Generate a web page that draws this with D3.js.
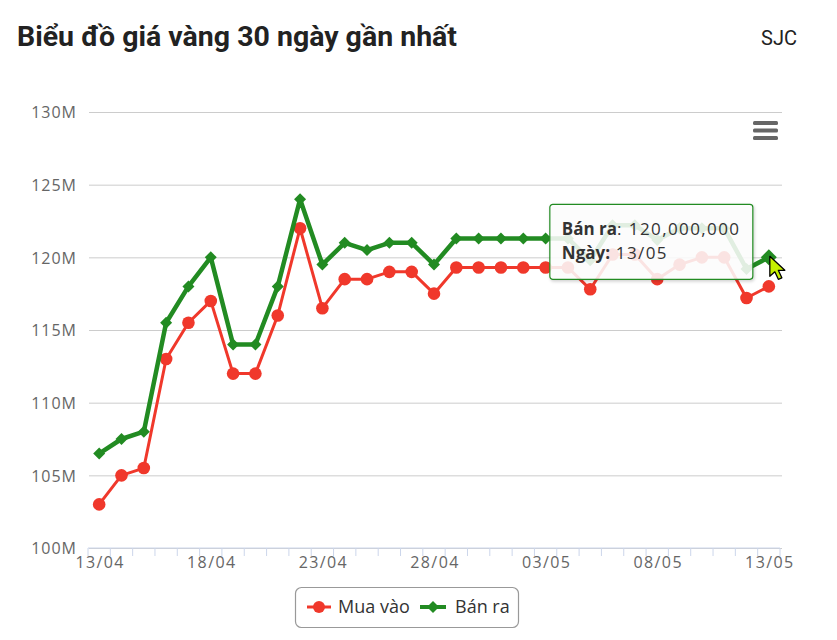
<!DOCTYPE html>
<html><head><meta charset="utf-8">
<script src="https://cdn.jsdelivr.net/npm/d3@7"></script>
<style>body{margin:0;background:#fff} svg{display:block;font-family:"Open Sans",sans-serif}</style>
</head><body>
<svg id="c" width="837" height="640"></svg>
<script>
const titleText = "Biểu đồ giá vàng 30 ngày gần nhất";
const brandText = "SJC";
const dates = ["13/04","14/04","15/04","16/04","17/04","18/04","19/04","20/04","21/04","22/04","23/04","24/04","25/04","26/04","27/04","28/04","29/04","30/04","01/05","02/05","03/05","04/05","05/05","06/05","07/05","08/05","09/05","10/05","11/05","12/05","13/05"];
const muaVao = [103,105,105.5,113,115.5,117,112,112,116,122,116.5,118.5,118.5,119,119,117.5,119.3,119.3,119.3,119.3,119.3,119.3,117.8,120.2,120.2,118.5,119.5,120,120,117.2,118];
const banRa  = [106.5,107.5,108,115.5,118,120,114,114,118,124,119.5,121,120.5,121,121,119.5,121.3,121.3,121.3,121.3,121.3,121.3,119.8,122.2,122.2,121.2,122,122,122,119.2,120];
const yTicks = [100,105,110,115,120,125,130];
const xTickLabels = ["13/04","18/04","23/04","28/04","03/05","08/05","13/05"];
const seriesNames = ["Mua vào","Bán ra"];
const hoverIndex = 30;

const colors = {mua:"#f0382b", ban:"#228b22"};
const svg = d3.select("#c");
const plot = {left:88, right:780, top:112, bottom:548};

const x = d3.scaleBand().domain(dates).range([plot.left, plot.right]);
const xc = d => x(d) + x.bandwidth()/2;
const y = d3.scaleLinear().domain([100,130]).range([plot.bottom, plot.top]);

// Title
svg.append("text").attr("x",17).attr("y",46)
  .attr("font-family","Roboto, sans-serif").attr("font-weight","bold").attr("font-size",27)
  .attr("fill","#222").attr("textLength",440).attr("lengthAdjust","spacingAndGlyphs")
  .text(titleText);
svg.append("text").attr("x",797).attr("y",45).attr("text-anchor","end")
  .attr("font-family","Roboto, sans-serif").attr("font-size",20).attr("fill","#222")
  .text(brandText);

// grid + y labels
const yAxis = d3.axisLeft(y).tickValues(yTicks).tickSize(0).tickPadding(0)
  .tickFormat(d => d + "M");
const gy = svg.append("g").attr("transform",`translate(${plot.left},0)`).call(yAxis);
gy.select(".domain").remove();
gy.selectAll("text").attr("x",-11).attr("dy","0.36em")
  .attr("font-family","Open Sans, sans-serif").attr("font-size",16)
  .attr("letter-spacing","1px").attr("fill","#666");
const grid = d3.axisLeft(y).tickValues(yTicks).tickSize(-(plot.right-plot.left+1)).tickFormat("");
const gg = svg.append("g").attr("transform",`translate(${plot.left+1},0)`).call(grid);
gg.select(".domain").remove();
gg.selectAll("line").attr("stroke","#cccccc").attr("stroke-width",1);

// x axis
const gx = svg.append("g").attr("transform",`translate(0,${plot.bottom})`);
gx.append("line").attr("x1",plot.left).attr("x2",plot.right).attr("stroke","#ccd6eb");
const bounds = dates.map(d => x(d)).concat([x(dates[dates.length-1]) + x.bandwidth()]);
gx.selectAll("line.tk").data(bounds).enter().append("line").attr("class","tk")
  .attr("x1",d=>d).attr("x2",d=>d).attr("y1",0).attr("y2",8).attr("stroke","#ccd6eb");
gx.selectAll("text").data(xTickLabels).enter().append("text")
  .attr("x",d=>xc(d)+1).attr("y",20).attr("text-anchor","middle")
  .attr("font-family","Open Sans, sans-serif").attr("font-size",16)
  .attr("letter-spacing","1.4px").attr("fill","#666").text(d=>d);

// lines
const line = d3.line().x((d,i)=>xc(dates[i])).y(d=>y(d));
svg.append("path").datum(muaVao).attr("d",line).attr("fill","none")
  .attr("stroke",colors.mua).attr("stroke-width",3).attr("stroke-linejoin","round");
svg.selectAll("circle.mua").data(muaVao).enter().append("circle").attr("class","mua")
  .attr("cx",(d,i)=>xc(dates[i])).attr("cy",d=>y(d)).attr("r",6.3).attr("fill",colors.mua);

svg.append("path").datum(banRa).attr("d",line).attr("fill","none")
  .attr("stroke",colors.ban).attr("stroke-width",4.5).attr("stroke-linejoin","round");
const diamond = s => `M0,${-s}L${s},0L0,${s}L${-s},0Z`;
svg.selectAll("path.ban").data(banRa).enter().append("path").attr("class","ban")
  .attr("transform",(d,i)=>`translate(${xc(dates[i])},${y(d)})`)
  .attr("d",(d,i)=> diamond(i===hoverIndex?8:6)).attr("fill",colors.ban);

// menu icon
const menu = svg.append("g").attr("transform","translate(753,121)");
[0,7.5,15].forEach(o => menu.append("rect").attr("x",0).attr("y",o).attr("width",25).attr("height",4)
  .attr("rx",1.5).attr("fill","#666"));

// tooltip
const hx = xc(dates[hoverIndex]), hy = y(banRa[hoverIndex]);
const tt = svg.append("g").attr("transform",`translate(${hx-219},${hy-53})`);
const defs = svg.append("defs");
const f = defs.append("filter").attr("id","sh").attr("x","-10%").attr("y","-10%").attr("width","130%").attr("height","140%");
f.append("feDropShadow").attr("dx",1).attr("dy",1.5).attr("stdDeviation",1.5).attr("flood-color","#000").attr("flood-opacity",0.2);
tt.append("rect").attr("width",203).attr("height",75).attr("rx",3)
  .attr("fill","rgba(255,255,255,0.85)").attr("stroke",colors.ban).attr("stroke-width",1.2)
  .attr("filter","url(#sh)");
const fmt = d3.format(",");
const t1 = tt.append("text").attr("x",12).attr("y",31).attr("font-size",17).attr("fill","#333");
t1.append("tspan").attr("font-weight","bold").text(seriesNames[1]);
t1.append("tspan").attr("letter-spacing","1.4px").text(": " + fmt(banRa[hoverIndex]*1e6));
const t2 = tt.append("text").attr("x",12).attr("y",55).attr("font-size",17).attr("fill","#333");
t2.append("tspan").attr("font-weight","bold").text("Ngày:");
t2.append("tspan").attr("letter-spacing","1.4px").text(" " + dates[hoverIndex]);

// cursor
svg.append("path").attr("transform",`translate(${hx+1},${hy-1})`)
  .attr("d","M0,0L0,20L5,15.5L8.5,23L12,21.5L8.5,14L15,14Z")
  .attr("fill","#c6f000").attr("stroke","#000").attr("stroke-width",1.3).attr("stroke-linejoin","round");

// legend
const lg = svg.append("g");
lg.append("rect").attr("x",295.5).attr("y",587.5).attr("width",223).attr("height",40).attr("rx",6)
  .attr("fill","#fff").attr("stroke","#999").attr("stroke-width",1.2);
const li1 = lg.append("g").attr("transform","translate(307,607)");
li1.append("line").attr("x1",0).attr("x2",24).attr("stroke",colors.mua).attr("stroke-width",3);
li1.append("circle").attr("cx",12).attr("r",6).attr("fill",colors.mua);
li1.append("text").attr("x",31).attr("y",6).attr("font-size",18).attr("fill","#333").text(seriesNames[0]);
const li2 = lg.append("g").attr("transform","translate(420,607)");
li2.append("line").attr("x1",0).attr("x2",26).attr("stroke",colors.ban).attr("stroke-width",4);
li2.append("path").attr("transform","translate(13,0)").attr("d",diamond(6)).attr("fill",colors.ban);
li2.append("text").attr("x",35).attr("y",6).attr("font-size",18).attr("fill","#333").text(seriesNames[1]);
</script>
</body></html>
